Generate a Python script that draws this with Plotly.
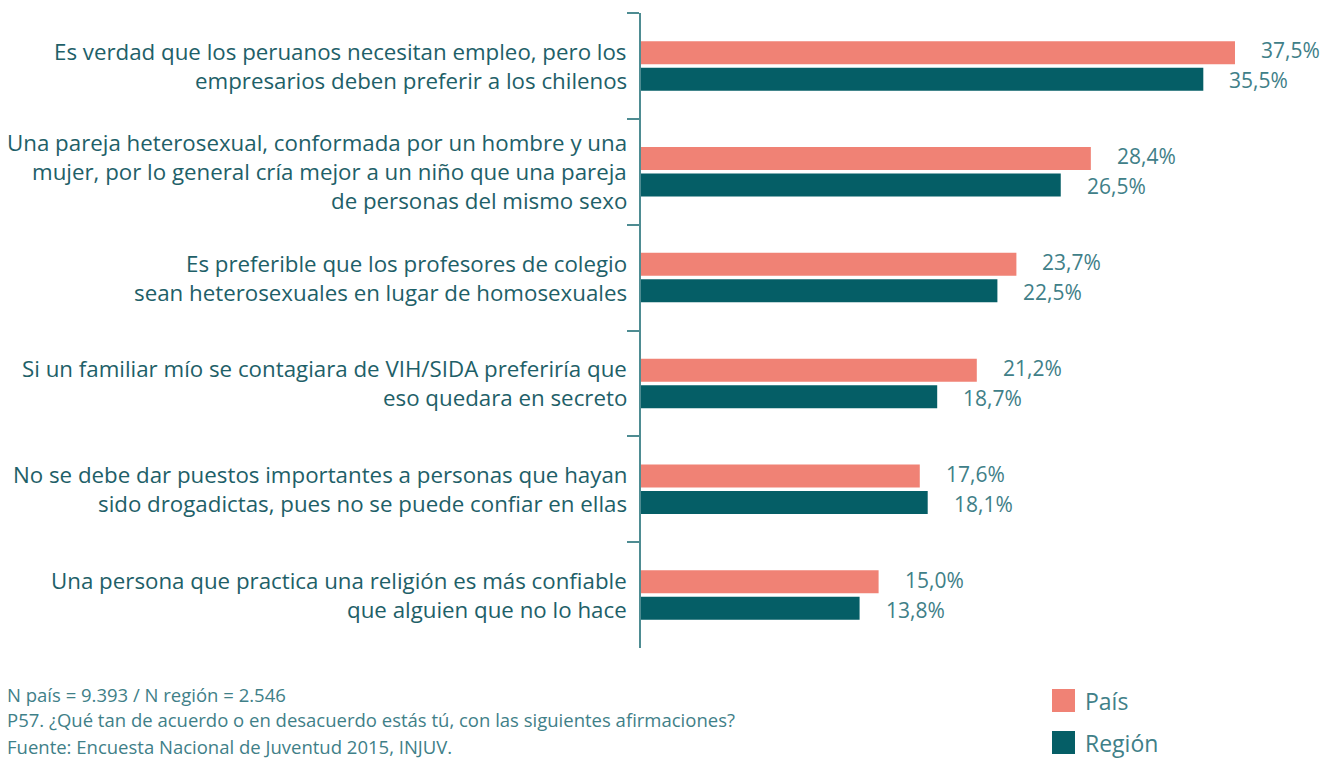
import plotly.graph_objects as go

# Statements (one list of lines per category) and percentages
categorias = [
    "Es verdad que los peruanos necesitan empleo, pero los empresarios deben preferir a los chilenos",
    "Una pareja heterosexual, conformada por un hombre y una mujer, por lo general cría mejor a un niño que una pareja de personas del mismo sexo",
    "Es preferible que los profesores de colegio sean heterosexuales en lugar de homosexuales",
    "Si un familiar mío se contagiara de VIH/SIDA preferiría que eso quedara en secreto",
    "No se debe dar puestos importantes a personas que hayan sido drogadictas, pues no se puede confiar en ellas",
    "Una persona que practica una religión es más confiable que alguien que no lo hace",
]
lineas = [
    ["Es verdad que los peruanos necesitan empleo, pero los", "empresarios deben preferir a los chilenos"],
    ["Una pareja heterosexual, conformada por un hombre y una", "mujer, por lo general cría mejor a un niño que una pareja", "de personas del mismo sexo"],
    ["Es preferible que los profesores de colegio", "sean heterosexuales en lugar de homosexuales"],
    ["Si un familiar mío se contagiara de VIH/SIDA preferiría que", "eso quedara en secreto"],
    ["No se debe dar puestos importantes a personas que hayan", "sido drogadictas, pues no se puede confiar en ellas"],
    ["Una persona que practica una religión es más confiable", "que alguien que no lo hace"],
]
pais = [37.5, 28.4, 23.7, 21.2, 17.6, 15.0]
region = [35.5, 26.5, 22.5, 18.7, 18.1, 13.8]
series = ["País", "Región"]
notas = [
    "N país = 9.393 / N región = 2.546",
    "P57. ¿Qué tan de acuerdo o en desacuerdo estás tú, con las siguientes afirmaciones?",
    "Fuente: Encuesta Nacional de Juventud 2015, INJUV.",
]

COL_PAIS = "#F08275"
COL_REG = "#055E66"
TXT = "#1E6068"
TXT_VAL = "#3F8088"
FONT = "Open Sans"

# plot-area geometry in pixels (used to place paper-anchored extras)
W, H = 1337, 759
ML, MR, MT, MB = 641, 0, 13, 111
PW, PH = W - ML - MR, H - MT - MB


def px_x(x):
    return (x - ML) / PW


def px_y(y):
    return (H - MB - y) / PH


fig = go.Figure()
for name, vals, col in [(series[0], pais, COL_PAIS), (series[1], region, COL_REG)]:
    fig.add_trace(go.Bar(
        y=categorias, x=vals, name=name, orientation="h",
        marker=dict(color=col, line=dict(width=0)),
        showlegend=False, hoverinfo="x+name",
    ))

annotations = []
# Category labels, one annotation per line
for i, ls in enumerate(lineas):
    n = len(ls)
    for j, t in enumerate(ls):
        off = (j - (n - 1) / 2) * 29
        annotations.append(dict(
            x=0, xref="paper", y=categorias[i], yref="y", yshift=-off,
            text=t, showarrow=False, xanchor="right", yanchor="middle",
            xshift=-12, font=dict(family=FONT, size=22.3, color=TXT),
        ))

# Value labels next to the bars
def fmt(v):
    return f"{v:.1f}".replace(".", ",") + "%"

for i in range(len(categorias)):
    for vals, shift in [(pais, 15.5), (region, -14.5)]:
        annotations.append(dict(
            x=vals[i], xref="x", y=categorias[i], yref="y", yshift=shift,
            text=fmt(vals[i]), showarrow=False, xanchor="left", yanchor="middle",
            xshift=24, font=dict(family=FONT, size=21, color=TXT_VAL),
        ))

# Footnotes
for k, t in enumerate(notas):
    annotations.append(dict(
        x=px_x(5), xref="paper", y=px_y(694 + 26 * k), yref="paper",
        text=t, showarrow=False, xanchor="left", yanchor="middle",
        font=dict(family=FONT, size=18.5, color=TXT_VAL),
    ))

# Legend drawn as swatches with labels
shapes = []
for k, (name, col) in enumerate([(series[0], COL_PAIS), (series[1], COL_REG)]):
    top = 689 + 42 * k
    shapes.append(dict(type="rect", xref="paper", yref="paper",
                       x0=px_x(1052), x1=px_x(1075), y0=px_y(top + 23), y1=px_y(top),
                       fillcolor=col, line=dict(width=0)))
    annotations.append(dict(
        x=px_x(1083), xref="paper", y=px_y(top + 11.5), yref="paper",
        text=name, showarrow=False, xanchor="left", yanchor="middle",
        font=dict(family=FONT, size=23, color=TXT_VAL),
    ))

fig.update_layout(
    width=W, height=H,
    margin=dict(l=ML, r=MR, t=MT, b=MB),
    paper_bgcolor="white", plot_bgcolor="white",
    barmode="group", bargap=0.5, bargroupgap=0.13,
    xaxis=dict(range=[0, 43.94], visible=False, fixedrange=True),
    yaxis=dict(
        autorange="reversed", type="category", showticklabels=False,
        showline=True, linecolor="#4E8C92", linewidth=1.5,
        ticks="outside", tickson="boundaries", ticklen=12, tickcolor="#4E8C92", tickwidth=1.5,
        showgrid=False, zeroline=False,
    ),
    annotations=annotations, shapes=shapes,
    font=dict(family=FONT),
)

fig.write_html("out.html")
